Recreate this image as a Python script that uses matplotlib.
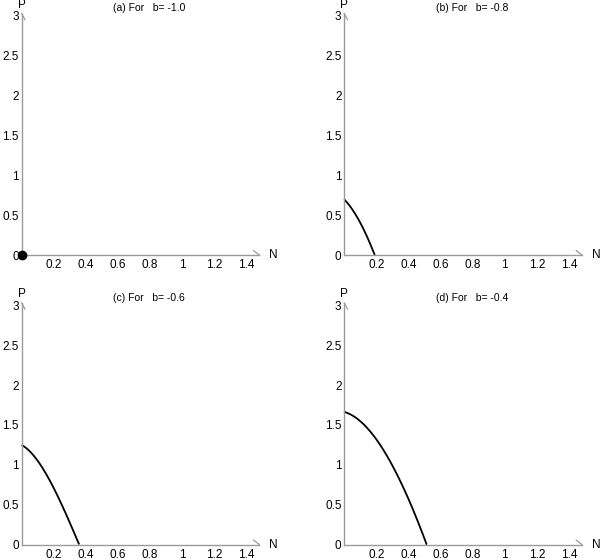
import matplotlib
matplotlib.use("Agg")
import matplotlib.pyplot as plt
import numpy as np

plt.rcParams['font.family'] = ['Liberation Sans', 'DejaVu Sans']

# ---- data ----
panel_letters = ["a", "b", "c", "d"]
b_values = [-1.0, -0.8, -0.6, -0.4]

# curves P(N) for each panel (panel a: single equilibrium point at origin)
N_a = [0.0]
P_a = [0.0]
N_b = [0.0, 0.03, 0.067, 0.10, 0.13, 0.16, 0.19]
P_b = [0.70, 0.62, 0.52, 0.41, 0.28, 0.14, 0.0]
N_c = [0.0, 0.067, 0.13, 0.19, 0.254, 0.306, 0.358]
P_c = [1.25, 1.13, 0.96, 0.75, 0.48, 0.24, 0.0]
N_d = [0.0, 0.067, 0.15, 0.21, 0.275, 0.34, 0.40, 0.45, 0.515]
P_d = [1.67, 1.59, 1.44, 1.30, 1.07, 0.86, 0.56, 0.31, 0.0]

x_ticks = [0.2, 0.4, 0.6, 0.8, 1.0, 1.2, 1.4]
x_ticklabels = ["0.2", "0.4", "0.6", "0.8", "1", "1.2", "1.4"]
y_ticks = [0, 0.5, 1, 1.5, 2, 2.5, 3]
y_ticklabels = ["0", "0.5", "1", "1.5", "2", "2.5", "3"]

x_axis_end = 1.48
y_axis_end = 3.03

fig = plt.figure(figsize=(6.0, 5.6), dpi=100)

W, H = 600.0, 560.0
ax_w = 240.8 / W
ax_h = 243.0 / H
positions = [
    (21.7 / W, (H - 255.0) / H),
    (344.3 / W, (H - 255.0) / H),
    (21.7 / W, (H - 544.5) / H),
    (344.3 / W, (H - 544.5) / H),
]

curves = [(N_a, P_a), (N_b, P_b), (N_c, P_c), (N_d, P_d)]
axis_color = "#9a9a9a"
fs_tick = 8.5
fs_title = 7.5

for i, (pos, (N, P)) in enumerate(zip(positions, curves)):
    ax = fig.add_axes([pos[0], pos[1], ax_w, ax_h])
    ax.set_xlim(0, 1.5)
    ax.set_ylim(0, 3.05)
    for s in ["top", "right"]:
        ax.spines[s].set_visible(False)
    for s in ["left", "bottom"]:
        ax.spines[s].set_color(axis_color)
        ax.spines[s].set_linewidth(1.0)
    ax.spines["bottom"].set_bounds(0, x_axis_end)
    ax.spines["left"].set_bounds(0, y_axis_end)

    # half arrowheads
    ax.plot([x_axis_end, x_axis_end - 0.035], [0, 0.054], color=axis_color,
            lw=0.9, clip_on=False)
    ax.plot([0, 0.02], [y_axis_end, y_axis_end - 0.075], color=axis_color,
            lw=0.9, clip_on=False)

    ax.set_xticks(x_ticks)
    ax.set_xticklabels(x_ticklabels)
    ax.set_yticks(y_ticks)
    ax.set_yticklabels(y_ticklabels)
    ax.tick_params(axis="both", length=0, labelsize=fs_tick, colors="black")
    ax.tick_params(axis="x", pad=3)
    ax.tick_params(axis="y", pad=2)

    if i == 0:
        ax.plot(N, P, "o", color="black", markersize=6, clip_on=False, zorder=5)
    else:
        # smooth cubic through the read points
        coef = np.polyfit(N, P, 3)
        xs = np.linspace(N[0], N[-1], 200)
        ys = np.polyval(coef, xs)
        ys[0], ys[-1] = P[0], P[-1]
        ax.plot(xs, ys, color="black", lw=1.3, clip_on=False,
                solid_capstyle="butt")

    ax.text(0, 3.14, "P", fontsize=fs_tick, ha="center",
            va="center", transform=ax.transData, clip_on=False)
    ax.text(x_axis_end + 0.06, 0, "N", fontsize=fs_tick, ha="left",
            va="center", transform=ax.transData, clip_on=False)
    ax.text(0.795, 3.10, "(%s) For   b= %.1f" % (panel_letters[i], b_values[i]),
            fontsize=fs_title, ha="center", va="center", transform=ax.transData,
            clip_on=False)

fig.savefig("out.png", dpi=100)
